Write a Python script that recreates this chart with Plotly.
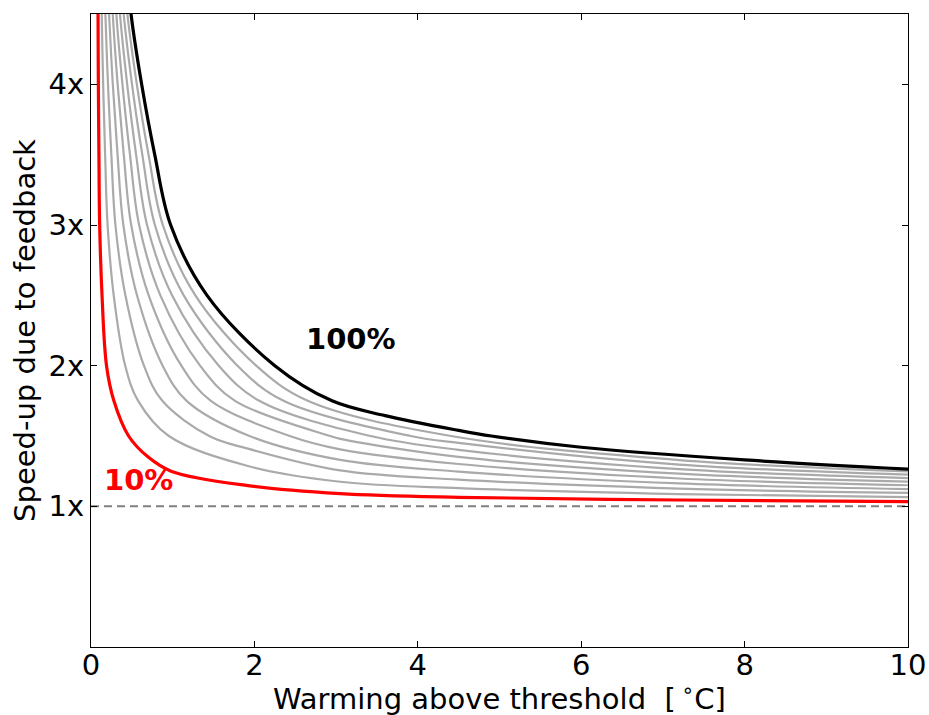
import plotly.graph_objects as go

# Curve labels (feedback strength)
PCT = [10, 20, 30, 40, 50, 60, 70, 80, 90, 100]

# Crossing of each curve (columns = PCT) with horizontal levels of speed-up
Y_LEVELS = [4.75, 4.5, 4.0, 3.5, 3.0, 2.5, 2.0, 1.75, 1.5]
X_AT_475 = [0.083, 0.124, 0.165, 0.205, 0.246, 0.287, 0.328, 0.369, 0.409, 0.45]
X_AT_45 = [0.086, 0.131, 0.176, 0.221, 0.266, 0.310, 0.355, 0.400, 0.445, 0.49]
X_AT_40 = [0.09, 0.149, 0.208, 0.267, 0.326, 0.385, 0.443, 0.502, 0.561, 0.62]
X_AT_35 = [0.097, 0.173, 0.249, 0.325, 0.401, 0.477, 0.552, 0.628, 0.704, 0.78]
X_AT_30 = [0.106, 0.203, 0.299, 0.396, 0.492, 0.589, 0.686, 0.782, 0.879, 0.975]
X_AT_25 = [0.135, 0.278, 0.421, 0.563, 0.706, 0.849, 0.992, 1.135, 1.277, 1.42]
X_AT_20 = [0.19, 0.419, 0.648, 0.877, 1.106, 1.335, 1.564, 1.793, 2.022, 2.25]
X_AT_175 = [0.28, 0.577, 0.873, 1.17, 1.467, 1.763, 2.06, 2.357, 2.653, 2.95]
X_AT_15 = [0.46, 0.953, 1.447, 1.94, 2.433, 2.927, 3.42, 3.913, 4.407, 4.9]
X_LEVEL_ROWS = [X_AT_475, X_AT_45, X_AT_40, X_AT_35, X_AT_30, X_AT_25, X_AT_20, X_AT_175, X_AT_15]

# Tail of each curve (warming, speed-up)
TAIL_X = [
    [0.70, 0.98, 1.92, 3.05, 4.5, 7.2, 10],
    [1.92, 3.05, 4.5, 7.2, 10],
    [1.92, 3.05, 4.5, 7.2, 10],
    [3.05, 4.5, 7.2, 10],
    [3.05, 4.5, 7.2, 10],
    [3.05, 4.5, 7.2, 10],
    [4.5, 7.2, 10],
    [4.5, 7.2, 10],
    [7.2, 10],
    [6.0, 8.0, 10],
]
TAIL_Y = [
    [1.35, 1.25, 1.147, 1.09, 1.064, 1.045, 1.033],
    [1.287, 1.175, 1.129, 1.087, 1.065],
    [1.41, 1.255, 1.19, 1.126, 1.095],
    [1.33, 1.247, 1.163, 1.123],
    [1.405, 1.301, 1.198, 1.15],
    [1.48, 1.352, 1.232, 1.176],
    [1.402, 1.265, 1.201],
    [1.451, 1.297, 1.225],
    [1.329, 1.248],
    [1.42, 1.33, 1.265],
]
# extra readings on the 100% curve between 1.75x and 1.5x
BLACK_MID_X = [3.6, 4.5]
BLACK_MID_Y = [1.645, 1.54]

Y_TICKS = [1, 2, 3, 4]
Y_TICK_TEXT = ["1x", "2x", "3x", "4x"]
X_TICKS = [0, 2, 4, 6, 8, 10]

FONT = "DejaVu Sans"
fig = go.Figure()

# baseline 1x
fig.add_trace(go.Scatter(x=[0, 10], y=[1, 1], mode="lines",
                         line=dict(color="#808080", width=2, dash="8px,5px"),
                         hoverinfo="skip", showlegend=False))

order = list(range(1, 9)) + [0, 9]
for i in order:
    pts = [(row[i], lv) for row, lv in zip(X_LEVEL_ROWS, Y_LEVELS)]
    pts += list(zip(TAIL_X[i], TAIL_Y[i]))
    if i == 9:
        pts += list(zip(BLACK_MID_X, BLACK_MID_Y))
    pts.sort()
    xs = [p[0] for p in pts]
    ys = [p[1] for p in pts]
    if i == 0:
        color, width = "#ff0000", 3.2
    elif i == 9:
        color, width = "#000000", 3.2
    else:
        color, width = "#aaaaaa", 2.2
    fig.add_trace(go.Scatter(x=xs, y=ys, mode="lines", name=f"{PCT[i]}%",
                             line=dict(color=color, width=width, shape="spline", smoothing=1.0),
                             showlegend=False))

fig.add_annotation(x=3.18, y=2.19, text="<b>100%</b>", showarrow=False,
                   font=dict(family=FONT, size=29, color="black"))
fig.add_annotation(x=0.58, y=1.19, text="<b>10%</b>", showarrow=False,
                   font=dict(family=FONT, size=29, color="#ff0000"))

# x-axis title placed as a text annotation below the tick labels
fig.add_annotation(xref="paper", yref="paper", x=0.5, y=-0.079, yanchor="middle",
                   text="Warming above threshold\u00a0\u00a0[\u2009<sup>\u2218</sup>C]",
                   showarrow=False, font=dict(family=FONT, size=29, color="black"))

axis_common = dict(showgrid=False, zeroline=False, showline=True, linecolor="black",
                   linewidth=1, mirror="allticks", ticks="inside", ticklen=6,
                   tickcolor="black", tickwidth=1, automargin=False,
                   tickfont=dict(family=FONT, size=29, color="black"))

fig.update_xaxes(range=[0, 10], tickvals=X_TICKS, ticktext=[str(v) for v in X_TICKS],
                 ticklabelstandoff=-8, **axis_common)
fig.update_yaxes(range=[0, 4.5], tickvals=Y_TICKS, ticktext=Y_TICK_TEXT,
                 title=dict(text="Speed-up due to feedback",
                            font=dict(family=FONT, size=29, color="black"), standoff=4),
                 **axis_common)

fig.update_layout(width=929, height=715, plot_bgcolor="white", paper_bgcolor="white",
                  margin=dict(l=91, r=21, t=14, b=68), font=dict(family=FONT))

fig.write_html("out.html")
